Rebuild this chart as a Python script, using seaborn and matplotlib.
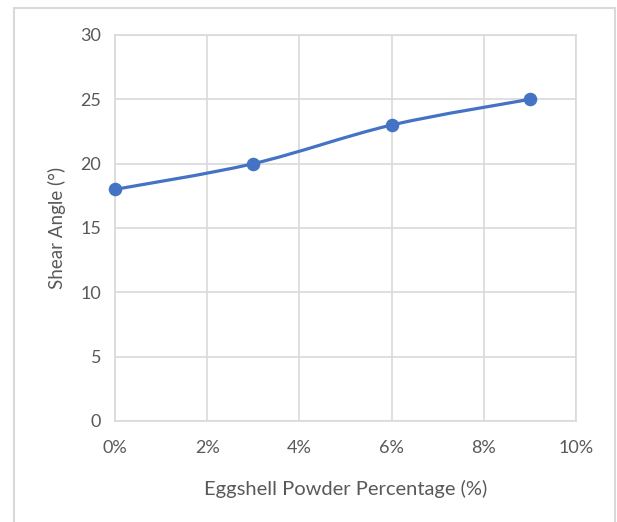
import numpy as np
import pandas as pd
import matplotlib
matplotlib.use("Agg")
import matplotlib.pyplot as plt
from matplotlib.path import Path
from matplotlib.patches import PathPatch, Rectangle
from matplotlib.ticker import FuncFormatter
import seaborn as sns

eggshell_pct = [0, 3, 6, 9]
shear_angle = [18, 20, 23, 25]
x_ticks = [0, 2, 4, 6, 8, 10]
y_ticks = [0, 5, 10, 15, 20, 25, 30]

line_color = "#4472C4"
grid_color = "#D9D9D9"
text_color = "#595959"

sns.set_theme(style="white")
plt.rcParams["font.family"] = ["Lato", "DejaVu Sans"]

df = pd.DataFrame({"pct": eggshell_pct, "angle": shear_angle})

fig = plt.figure(figsize=(6.17, 5.22), dpi=100)
ax = fig.add_axes([0.1864, 0.1935, 0.7471, 0.7395])

# smoothed line like Excel (cubic bezier through the points)
pts = df[["pct", "angle"]].to_numpy(dtype=float)
verts = [pts[0]]
codes = [Path.MOVETO]
for i in range(len(pts) - 1):
    p0 = pts[i - 1] if i > 0 else pts[i]
    p1 = pts[i]
    p2 = pts[i + 1]
    p3 = pts[i + 2] if i + 2 < len(pts) else pts[i + 1]
    c1 = p1 + (p2 - p0) / 6
    c2 = p2 - (p3 - p1) / 6
    verts += [c1, c2, p2]
    codes += [Path.CURVE4] * 3
ax.add_patch(PathPatch(Path(verts, codes), fill=False, edgecolor=line_color,
                       lw=2.3, capstyle="round", zorder=3))

sns.scatterplot(data=df, x="pct", y="angle", ax=ax, color=line_color,
                s=95, edgecolor=line_color, linewidth=0, zorder=4, clip_on=False)

ax.set_xlim(0, 10)
ax.set_ylim(0, 30)
ax.set_xticks(x_ticks)
ax.set_yticks(y_ticks)
ax.xaxis.set_major_formatter(FuncFormatter(lambda v, _: f"{int(v)}%"))
ax.grid(True, color=grid_color, lw=1.2)
ax.set_axisbelow(True)
for s in ax.spines.values():
    s.set_color(grid_color)
    s.set_linewidth(1.2)
ax.tick_params(axis="both", length=0, labelsize=13, labelcolor=text_color)
ax.tick_params(axis="x", pad=14)
ax.tick_params(axis="y", pad=10)
ax.set_xlabel("Eggshell Powder Percentage (%)", fontsize=14.5, color=text_color, labelpad=17)
ax.set_ylabel("Shear Angle (°)", fontsize=13.5, color=text_color, labelpad=10)

fig.patches.append(Rectangle((14 / 617, -0.05), 601 / 617, 1 - 8 / 522 + 0.05,
                             transform=fig.transFigure, fill=False,
                             edgecolor=grid_color, lw=1.5))

fig.savefig("out.png", dpi=100)
